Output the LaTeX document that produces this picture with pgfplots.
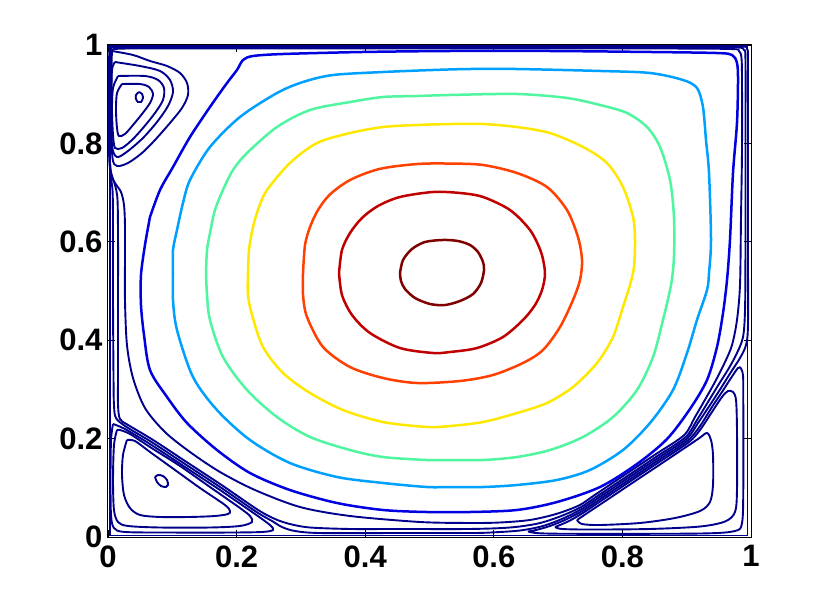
\documentclass[border=0pt]{standalone}
\usepackage{fontspec}
\setmainfont{Liberation Sans}
\usepackage{pgfplots}
\pgfplotsset{compat=1.18}
\definecolor{cA}{RGB}{128,0,0}
\definecolor{cB}{RGB}{192,0,0}
\definecolor{cC}{RGB}{255,64,0}
\definecolor{cD}{RGB}{255,232,0}
\definecolor{cE}{RGB}{80,245,160}
\definecolor{cF}{RGB}{0,160,255}
\definecolor{cG}{RGB}{0,0,224}
\definecolor{navy}{RGB}{0,0,140}
\begin{document}
\begin{tikzpicture}
\path[use as bounding box] (-108pt,-69pt) rectangle (722pt,537pt);
\begin{axis}[
  at={(0pt,0pt)}, anchor=south west,
  width=643pt, height=492pt, scale only axis,
  xmin=0, xmax=1, ymin=0, ymax=1,
  xtick={0,0.2,0.4,0.6,0.8,1}, ytick={0,0.2,0.4,0.6,0.8,1},
  tick align=inside, major tick length=7pt,
  every tick/.style={black, line width=0.8pt},
  axis line style={black, line width=1pt},
  ticklabel style={font=\fontsize{31}{35}\selectfont\bfseries},
  xticklabel style={yshift=-5pt},
  yticklabel style={xshift=-2pt},
  /pgf/number format/assume math mode=true,
  nv/.style={color=navy, line width=1.9pt, smooth},
  cl/.style={line width=2.5pt, smooth},
]
% ---- wall-hugging line
\addplot[color=navy, line width=1.9pt, sharp plot] coordinates {(0.0031,0.0030) (0.9946,0.0030) (0.9946,0.9980) (0.0031,0.9980) (0.0031,0.0030)};
% ---- primary vortex, outer levels
\addplot[nv] coordinates {(0.0109,0.9919) (0.0342,0.9929) (0.1431,0.9929) (0.2986,0.9929) (0.5319,0.9929) (0.8429,0.9929) (0.9673,0.9919) (0.9813,0.9878) (0.9852,0.9736) (0.9860,0.9289) (0.9860,0.7866) (0.9844,0.6443) (0.9829,0.5122) (0.9782,0.4411) (0.9705,0.3902) (0.9596,0.3557) (0.9456,0.3191) (0.9300,0.2825) (0.9129,0.2439) (0.8956,0.2067) (0.8490,0.1659) (0.8023,0.1252) (0.7557,0.0843) (0.7323,0.0640) (0.6967,0.0467) (0.6563,0.0346) (0.6096,0.0295) (0.5630,0.0285) (0.4852,0.0305) (0.3764,0.0427) (0.2986,0.0610) (0.2286,0.0955) (0.1742,0.1321) (0.1275,0.1728) (0.0886,0.2134) (0.0575,0.2622) (0.0389,0.3232) (0.0295,0.3902) (0.0264,0.4817) (0.0264,0.5630) (0.0264,0.6341) (0.0249,0.6748) (0.0202,0.7012) (0.0109,0.7195) (0.0047,0.7358) (0.0031,0.7663) (0.0031,0.9289) (0.0039,0.9837) (0.0109,0.9919)};
\addplot[nv] coordinates {(0.0047,0.9939) (0.0187,0.9955) (0.1431,0.9955) (0.5319,0.9955) (0.9207,0.9955) (0.9798,0.9949) (0.9891,0.9898) (0.9914,0.9695) (0.9914,0.7866) (0.9914,0.5833) (0.9907,0.4614) (0.9876,0.4065) (0.9782,0.3740) (0.9658,0.3435) (0.9502,0.3110) (0.9331,0.2744) (0.9160,0.2378) (0.8978,0.2026) (0.8512,0.1618) (0.8045,0.1211) (0.7579,0.0803) (0.7345,0.0600) (0.7030,0.0417) (0.6687,0.0274) (0.6252,0.0193) (0.5630,0.0163) (0.4541,0.0163) (0.3764,0.0163) (0.3142,0.0193) (0.2830,0.0264) (0.2597,0.0366) (0.2330,0.0553) (0.1785,0.1041) (0.1241,0.1508) (0.0697,0.1976) (0.0308,0.2280) (0.0187,0.2398) (0.0156,0.2683) (0.0156,0.3394) (0.0156,0.4817) (0.0156,0.6037) (0.0148,0.6850) (0.0109,0.7154) (0.0047,0.7419) (0.0023,0.7866) (0.0023,0.9289) (0.0028,0.9797) (0.0047,0.9939)};
\addplot[nv] coordinates {(0.0031,0.9959) (0.0109,0.9974) (0.1431,0.9974) (0.5319,0.9974) (0.9207,0.9974) (0.9860,0.9970) (0.9938,0.9919) (0.9953,0.9695) (0.9953,0.7866) (0.9953,0.5833) (0.9953,0.4309) (0.9922,0.3902) (0.9829,0.3638) (0.9689,0.3354) (0.9533,0.3028) (0.9362,0.2683) (0.9176,0.2317) (0.8995,0.1992) (0.8529,0.1583) (0.8062,0.1177) (0.7596,0.0768) (0.7362,0.0565) (0.7076,0.0376) (0.6765,0.0224) (0.6407,0.0132) (0.5941,0.0091) (0.5630,0.0081) (0.4541,0.0081) (0.3297,0.0081) (0.2908,0.0122) (0.2706,0.0203) (0.2551,0.0325) (0.2308,0.0510) (0.1764,0.0998) (0.1219,0.1465) (0.0675,0.1933) (0.0286,0.2238) (0.0124,0.2419) (0.0093,0.2683) (0.0086,0.3191) (0.0078,0.4817) (0.0078,0.6443) (0.0070,0.7053) (0.0039,0.7358) (0.0016,0.7866) (0.0016,0.9289) (0.0019,0.9797) (0.0031,0.9959)};
% ---- bottom-left eddy
\addplot[nv] coordinates {(0.0731,0.1220) (0.0778,0.1260) (0.0855,0.1240) (0.0918,0.1159) (0.0933,0.1057) (0.0902,0.1016) (0.0824,0.1037) (0.0762,0.1118) (0.0731,0.1220)};
\addplot[nv] coordinates {(0.0295,0.1972) (0.0233,0.1667) (0.0218,0.1260) (0.0249,0.0854) (0.0342,0.0589) (0.0498,0.0447) (0.0809,0.0407) (0.1275,0.0407) (0.1664,0.0427) (0.1866,0.0467) (0.1897,0.0528) (0.1820,0.0650) (0.1431,0.0996) (0.1042,0.1362) (0.0653,0.1728) (0.0420,0.1951) (0.0295,0.1972)};
\addplot[nv] coordinates {(0.0140,0.2175) (0.0093,0.1870) (0.0078,0.1159) (0.0093,0.0549) (0.0156,0.0305) (0.0311,0.0224) (0.0809,0.0193) (0.1586,0.0193) (0.2053,0.0224) (0.2239,0.0305) (0.2208,0.0427) (0.2053,0.0589) (0.1586,0.1016) (0.1120,0.1443) (0.0653,0.1829) (0.0342,0.2093) (0.0187,0.2175) (0.0140,0.2175)};
\addplot[nv] coordinates {(0.0078,0.2297) (0.0047,0.1972) (0.0039,0.1159) (0.0047,0.0447) (0.0093,0.0183) (0.0264,0.0102) (0.0964,0.0091) (0.1897,0.0091) (0.2395,0.0102) (0.2566,0.0142) (0.2519,0.0244) (0.2286,0.0467) (0.1742,0.0955) (0.1198,0.1423) (0.0653,0.1890) (0.0264,0.2195) (0.0078,0.2297)};
% ---- bottom-right eddy
\addplot[nv] coordinates {(0.7294,0.0346) (0.7372,0.0264) (0.7652,0.0244) (0.8274,0.0285) (0.8818,0.0386) (0.9207,0.0528) (0.9362,0.0711) (0.9409,0.1057) (0.9409,0.1667) (0.9378,0.1972) (0.9316,0.2114) (0.9207,0.2020) (0.9051,0.1882) (0.8585,0.1474) (0.8118,0.1067) (0.7652,0.0659) (0.7418,0.0455) (0.7294,0.0346)};
\addplot[nv] coordinates {(0.6952,0.0203) (0.7061,0.0163) (0.7496,0.0152) (0.8429,0.0163) (0.9207,0.0213) (0.9596,0.0315) (0.9751,0.0508) (0.9782,0.0955) (0.9782,0.2175) (0.9767,0.2785) (0.9720,0.2947) (0.9642,0.2967) (0.9549,0.2846) (0.9393,0.2541) (0.9207,0.2175) (0.9030,0.1925) (0.8563,0.1516) (0.8096,0.1110) (0.7630,0.0701) (0.7397,0.0498) (0.7185,0.0335) (0.7030,0.0244) (0.6952,0.0203)};
\addplot[nv] coordinates {(0.6532,0.0112) (0.6719,0.0075) (0.7341,0.0065) (0.9207,0.0071) (0.9751,0.0122) (0.9860,0.0285) (0.9880,0.0955) (0.9880,0.2785) (0.9876,0.3272) (0.9844,0.3425) (0.9798,0.3435) (0.9689,0.3232) (0.9549,0.2947) (0.9393,0.2642) (0.9207,0.2256) (0.9012,0.1957) (0.8546,0.1549) (0.8079,0.1142) (0.7613,0.0734) (0.7379,0.0530) (0.7123,0.0356) (0.6874,0.0224) (0.6656,0.0142) (0.6532,0.0112)};
% ---- top-left eddy
\addplot[nv] coordinates {(0.0482,0.9045) (0.0529,0.9004) (0.0544,0.8923) (0.0513,0.8841) (0.0467,0.8841) (0.0435,0.8902) (0.0435,0.8984) (0.0482,0.9045)};
\addplot[nv] coordinates {(0.0218,0.9207) (0.0498,0.9207) (0.0638,0.9146) (0.0700,0.9004) (0.0653,0.8821) (0.0529,0.8598) (0.0389,0.8374) (0.0264,0.8191) (0.0171,0.8150) (0.0140,0.8313) (0.0124,0.8679) (0.0140,0.9024) (0.0218,0.9207)};
\addplot[nv] coordinates {(0.0156,0.9370) (0.0575,0.9370) (0.0778,0.9289) (0.0871,0.9126) (0.0855,0.8882) (0.0731,0.8618) (0.0544,0.8313) (0.0373,0.8069) (0.0218,0.7907) (0.0109,0.7907) (0.0078,0.8171) (0.0062,0.8679) (0.0078,0.9126) (0.0156,0.9370)};
\addplot[nv] coordinates {(0.0109,0.9654) (0.0498,0.9573) (0.0809,0.9472) (0.0964,0.9289) (0.1011,0.9045) (0.0933,0.8760) (0.0762,0.8435) (0.0544,0.8110) (0.0311,0.7846) (0.0140,0.7724) (0.0062,0.7967) (0.0054,0.8882) (0.0062,0.9492) (0.0109,0.9654)};
\addplot[nv] coordinates {(0.0062,0.9878) (0.0389,0.9797) (0.0653,0.9675) (0.0918,0.9573) (0.1120,0.9431) (0.1229,0.9228) (0.1244,0.8984) (0.1151,0.8720) (0.0964,0.8415) (0.0731,0.8069) (0.0529,0.7805) (0.0311,0.7602) (0.0140,0.7541) (0.0070,0.7703) (0.0054,0.8476) (0.0054,0.9492) (0.0062,0.9878)};
% ---- coloured primary levels
\addplot[cl, color=cG] coordinates {(0.0653,0.6504) (0.0575,0.5935) (0.0513,0.5325) (0.0513,0.4715) (0.0560,0.4106) (0.0653,0.3394) (0.0918,0.2846) (0.1229,0.2317) (0.1695,0.1768) (0.2208,0.1301) (0.2830,0.0955) (0.3561,0.0691) (0.4277,0.0549) (0.4961,0.0508) (0.5630,0.0508) (0.6361,0.0549) (0.6983,0.0711) (0.7652,0.1016) (0.8227,0.1484) (0.8694,0.1992) (0.9051,0.2602) (0.9316,0.3191) (0.9471,0.3862) (0.9565,0.4553) (0.9627,0.5224) (0.9673,0.6037) (0.9720,0.7398) (0.9782,0.8415) (0.9798,0.9289) (0.9782,0.9634) (0.9705,0.9797) (0.9471,0.9837) (0.8429,0.9858) (0.6874,0.9878) (0.5319,0.9878) (0.3966,0.9858) (0.2722,0.9817) (0.2255,0.9776) (0.2100,0.9695) (0.2006,0.9492) (0.1851,0.9228) (0.1586,0.8740) (0.1275,0.8130) (0.1011,0.7520) (0.0809,0.7053) (0.0653,0.6504)};
\addplot[cl, color=cF] coordinates {(0.1011,0.5366) (0.1011,0.5833) (0.1073,0.6240) (0.1166,0.6789) (0.1275,0.7256) (0.1586,0.7927) (0.2053,0.8537) (0.2628,0.9024) (0.3033,0.9248) (0.3499,0.9390) (0.4277,0.9451) (0.5054,0.9492) (0.5630,0.9512) (0.6361,0.9512) (0.7652,0.9472) (0.8429,0.9431) (0.8942,0.9289) (0.9160,0.9126) (0.9253,0.8740) (0.9300,0.8069) (0.9347,0.7398) (0.9378,0.6037) (0.9347,0.5366) (0.9316,0.5020) (0.9160,0.4411) (0.9005,0.3740) (0.8787,0.2988) (0.8429,0.2317) (0.8009,0.1768) (0.7496,0.1362) (0.6983,0.1159) (0.6361,0.1057) (0.5832,0.1016) (0.5319,0.1016) (0.4961,0.1016) (0.4277,0.1098) (0.3561,0.1220) (0.2830,0.1504) (0.2208,0.1972) (0.1695,0.2581) (0.1322,0.3252) (0.1073,0.4207) (0.1011,0.4817) (0.1011,0.5366)};
\addplot[cl, color=cE] coordinates {(0.1524,0.5366) (0.1540,0.5833) (0.1586,0.6179) (0.1664,0.6646) (0.1788,0.7053) (0.1944,0.7459) (0.2162,0.7805) (0.2628,0.8333) (0.3142,0.8679) (0.3764,0.8841) (0.4277,0.8943) (0.4806,0.8963) (0.5319,0.8984) (0.6361,0.9004) (0.7138,0.8923) (0.7652,0.8780) (0.8072,0.8618) (0.8383,0.8333) (0.8585,0.7927) (0.8740,0.7256) (0.8802,0.6504) (0.8802,0.5691) (0.8756,0.5122) (0.8631,0.4411) (0.8476,0.3659) (0.8227,0.2988) (0.7854,0.2439) (0.7387,0.2033) (0.6874,0.1768) (0.6361,0.1626) (0.5832,0.1565) (0.5319,0.1565) (0.4961,0.1565) (0.4277,0.1626) (0.3764,0.1768) (0.3142,0.2033) (0.2628,0.2439) (0.2162,0.2988) (0.1788,0.3659) (0.1586,0.4411) (0.1540,0.4919) (0.1524,0.5366)};
\addplot[cl, color=cD] coordinates {(0.2177,0.5366) (0.2193,0.5833) (0.2255,0.6301) (0.2348,0.6707) (0.2473,0.7053) (0.2830,0.7602) (0.3250,0.8008) (0.3764,0.8211) (0.4277,0.8333) (0.4806,0.8374) (0.5319,0.8394) (0.5832,0.8394) (0.6361,0.8333) (0.6874,0.8211) (0.7387,0.7927) (0.7760,0.7602) (0.8009,0.7114) (0.8165,0.6504) (0.8196,0.6037) (0.8180,0.5488) (0.8118,0.5122) (0.8009,0.4675) (0.7854,0.4065) (0.7605,0.3537) (0.7232,0.3049) (0.6827,0.2724) (0.6361,0.2520) (0.5832,0.2337) (0.5319,0.2256) (0.4961,0.2236) (0.4277,0.2337) (0.3655,0.2581) (0.3142,0.2927) (0.2722,0.3333) (0.2411,0.3862) (0.2240,0.4512) (0.2177,0.4919) (0.2177,0.5366)};
\addplot[cl, color=cC] coordinates {(0.3033,0.5366) (0.3064,0.5935) (0.3142,0.6301) (0.3266,0.6646) (0.3450,0.6960) (0.3764,0.7256) (0.4220,0.7480) (0.4806,0.7581) (0.5319,0.7590) (0.5832,0.7561) (0.6361,0.7398) (0.6827,0.7114) (0.7138,0.6646) (0.7309,0.6098) (0.7372,0.5630) (0.7341,0.5224) (0.7232,0.4817) (0.7030,0.4268) (0.6765,0.3801) (0.6454,0.3537) (0.5988,0.3293) (0.5474,0.3171) (0.4806,0.3130) (0.4277,0.3232) (0.3764,0.3455) (0.3344,0.3862) (0.3095,0.4472) (0.3033,0.4919) (0.3033,0.5366)};
\addplot[cl, color=cB] coordinates {(0.3593,0.5366) (0.3639,0.5833) (0.3764,0.6179) (0.3950,0.6484) (0.4199,0.6728) (0.4541,0.6911) (0.5054,0.7012) (0.5474,0.6992) (0.5832,0.6911) (0.6252,0.6646) (0.6563,0.6240) (0.6734,0.5793) (0.6796,0.5366) (0.6750,0.5020) (0.6641,0.4715) (0.6454,0.4411) (0.6143,0.4065) (0.5739,0.3841) (0.5319,0.3760) (0.5054,0.3740) (0.4541,0.3841) (0.4075,0.4146) (0.3795,0.4512) (0.3639,0.4919) (0.3593,0.5366)};
\addplot[cl, color=cA] coordinates {(0.4541,0.5366) (0.4588,0.5630) (0.4728,0.5854) (0.4930,0.5996) (0.5210,0.6037) (0.5443,0.6016) (0.5630,0.5935) (0.5754,0.5793) (0.5832,0.5589) (0.5848,0.5427) (0.5801,0.5163) (0.5677,0.4939) (0.5474,0.4797) (0.5241,0.4715) (0.5008,0.4736) (0.4774,0.4858) (0.4619,0.5041) (0.4557,0.5203) (0.4541,0.5366)};
\end{axis}
\end{tikzpicture}
\end{document}
